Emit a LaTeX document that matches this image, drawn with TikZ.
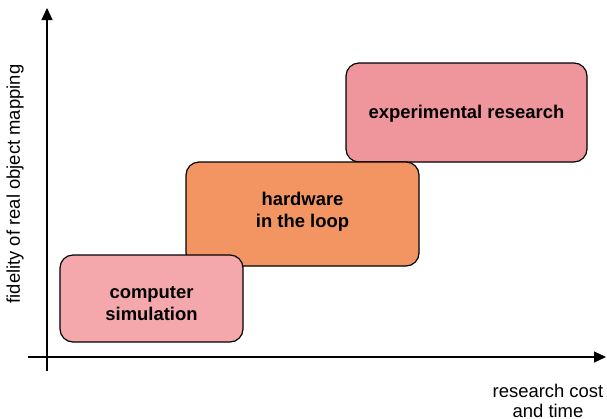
\documentclass[tikz,border=0pt]{standalone}
\usepackage{fontspec}
\setmainfont{Liberation Sans}
\usetikzlibrary{arrows.meta,positioning}
\definecolor{simpink}{RGB}{245,168,172}
\definecolor{hilorange}{RGB}{243,149,99}
\definecolor{exprose}{RGB}{239,150,157}
\tikzset{
  stage/.style={
    rectangle,
    rounded corners=13bp,
    draw=black,
    line width=1.2bp,
    inner sep=0pt
  },
  stagetext/.style={align=center, inner sep=0pt,
    font=\fontsize{18.5}{22}\selectfont\bfseries},
  axis/.style={-{Triangle[length=12bp,width=11bp]}, line width=1.2bp},
  axislabel/.style={align=center, inner sep=0pt,
    font=\fontsize{18.5}{20}\selectfont}
}

\begin{document}
\begin{tikzpicture}[x=1bp,y=-1bp]
    \useasboundingbox (0,0) rectangle (607,418);

    % axes
    \coordinate (ytip) at (47,8);
    \coordinate (ybot) at (47,371);
    \coordinate (xtip) at (606,357);
    \coordinate (xleft) at (28,357);
    \draw[axis] (ybot) -- (ytip);
    \draw[axis] (xleft) -- (xtip);

    \node[axislabel, rotate=90] (ylab) at (15,184) {fidelity of real object mapping};
    \node[axislabel] (xlab) at (548,401) {research cost\\and time};

    % stages, back to front
    \node[stage, fill=exprose, minimum width=241bp, minimum height=99bp,
      label={[stagetext, yshift=-1.5bp]center:experimental research}]
      (exp) at (466.5,112.5) {};
    \node[stage, fill=hilorange, minimum width=233bp, minimum height=104bp,
      label={[stagetext, yshift=2bp]center:hardware\\in the loop}]
      (hil) at (302.5,214) {};
    \node[stage, fill=simpink, minimum width=183bp, minimum height=87bp,
      label={[stagetext, yshift=-5bp]center:computer\\simulation}]
      (sim) at (151.5,298.5) {};
\end{tikzpicture}
\end{document}
